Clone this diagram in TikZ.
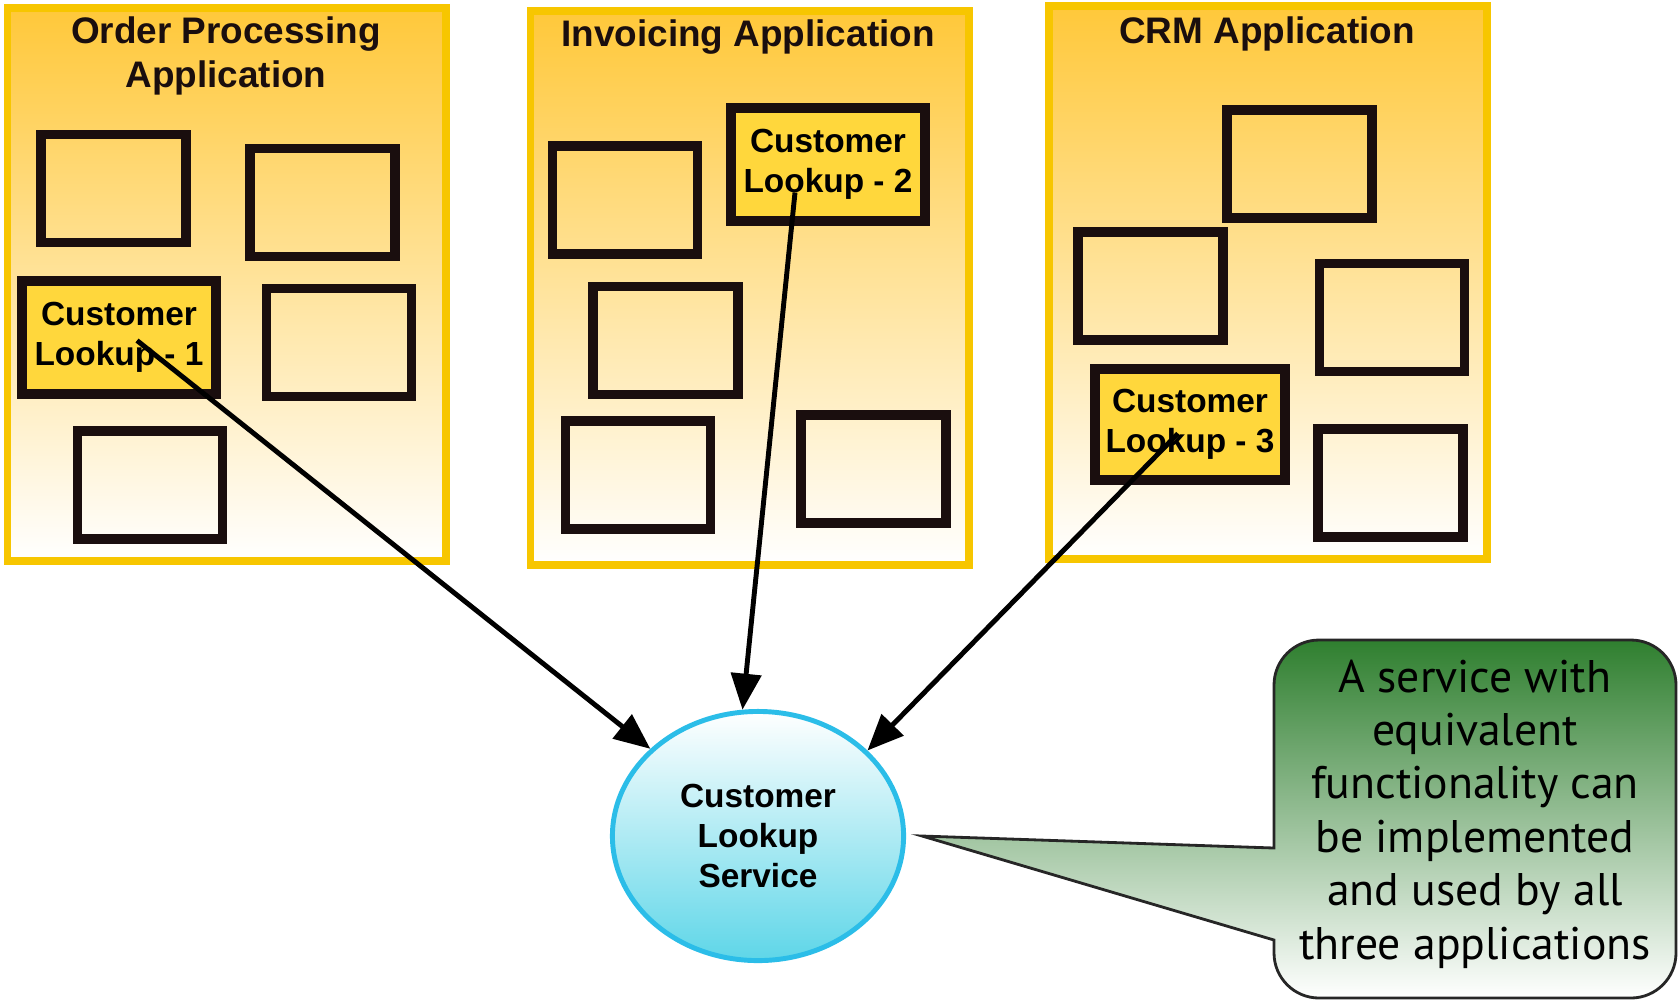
\documentclass[tikz,border=0pt]{standalone}
\usepackage{fontspec}
\setmainfont{Liberation Sans}
\newfontfamily\notefont{PT Sans}
\usetikzlibrary{arrows.meta,shapes.geometric}
\definecolor{PanelEdge}{HTML}{F7C600}
\definecolor{PanelTop}{HTML}{FFC83A}
\definecolor{PanelMid}{HTML}{FFE9C6}
\definecolor{LookupFill}{HTML}{FFD73C}
\definecolor{SvcEdge}{HTML}{2BBDE8}
\definecolor{SvcFill}{HTML}{5ED6E8}
\definecolor{NoteGreen}{HTML}{2F7F2F}
\definecolor{InkDark}{HTML}{1A0E0E}

\begin{document}
\begin{tikzpicture}[x=0.01cm, y=-0.01cm,
  app/.style={draw=PanelEdge, line width=2.2pt, top color=PanelTop, middle color=PanelMid, bottom color=white, minimum width=4.38cm, minimum height=5.53cm, inner sep=0pt},
  apptitle/.style={font=\bfseries\fontsize{10.5}{12.6}\selectfont, align=center, text=InkDark},
  blk/.style={draw=InkDark, line width=2.8pt, minimum width=1.45cm, minimum height=1.08cm, inner sep=0pt},
  lookup/.style={blk, fill=LookupFill, minimum width=1.94cm, minimum height=1.13cm, font=\bfseries\fontsize{9.5}{11.3}\selectfont, align=center},
  svc/.style={ellipse, draw=SvcEdge, line width=1.4pt, top color=white, bottom color=SvcFill, minimum width=2.91cm, minimum height=2.49cm, inner sep=0pt, font=\bfseries\fontsize{9.5}{11.4}\selectfont, align=center},
  conn/.style={-{Triangle[length=0.36cm,width=0.3cm]}, line width=1.4pt, draw=black},
  note/.style={draw=black!85, line width=0.8pt, top color=NoteGreen, middle color=NoteGreen!22!white, bottom color=white},
  notetext/.style={font=\notefont\fontsize{13}{15.2}\selectfont, align=center},
]
\useasboundingbox (0,0) rectangle (1679,1002);
% the three applications
\foreach \n/\x/\y in {opa/226.5/284.5, inv/749.5/288, crm/1268/282.5}
  \node[app] (\n) at (\x,\y) {};
\node[apptitle] (opaT) at (226,56) {Order Processing\\Application};
\node[apptitle] (invT) at (748,37) {Invoicing Application};
\node[apptitle] (crmT) at (1267,34) {CRM Application};
% other components
\foreach \n/\x/\y in {a1/113.5/188.5, a2/322.5/202.5, a3/339/342.5, a4/150/485,
  b1/625/200, b2/665.5/340.5, b3/638/475, b4/873.5/469,
  c1/1299.5/164, c2/1150.5/286, c3/1392/317.5, c4/1390.5/483}
  \node[blk] (\n) at (\x,\y) {};
% duplicated lookups
\node[lookup] (cl1) at (119,337.5) {Customer\\Lookup - 1};
\node[lookup] (cl2) at (828,164.5) {Customer\\Lookup - 2};
\node[lookup, minimum width=1.9cm, minimum height=1.11cm] (cl3) at (1190,424.5) {Customer\\Lookup - 3};
% shared service
\node[svc] (svc) at (758,836) {Customer\\Lookup\\Service};
\draw[conn] ([shift={(18,3)}]cl1.center) -- (svc.141);
\draw[conn] ([shift={(-33,28)}]cl2.center) -- (svc.97);
\draw[conn] ([shift={(-12,9)}]cl3.center) -- (svc.38);
% callout
\coordinate (tip) at ([xshift=0.16cm]svc.east);
\path[note] (1274,940) [rounded corners=0.45cm] -- (1274,998) -- (1676,998) -- (1676,640) -- (1274,640) [sharp corners] -- (1274,848) -- (tip) -- cycle;
\node[notetext] (noteT) at (1475,814) {A service with\\equivalent\\functionality can\\be implemented\\and used by all\\three applications};
\end{tikzpicture}
\end{document}
